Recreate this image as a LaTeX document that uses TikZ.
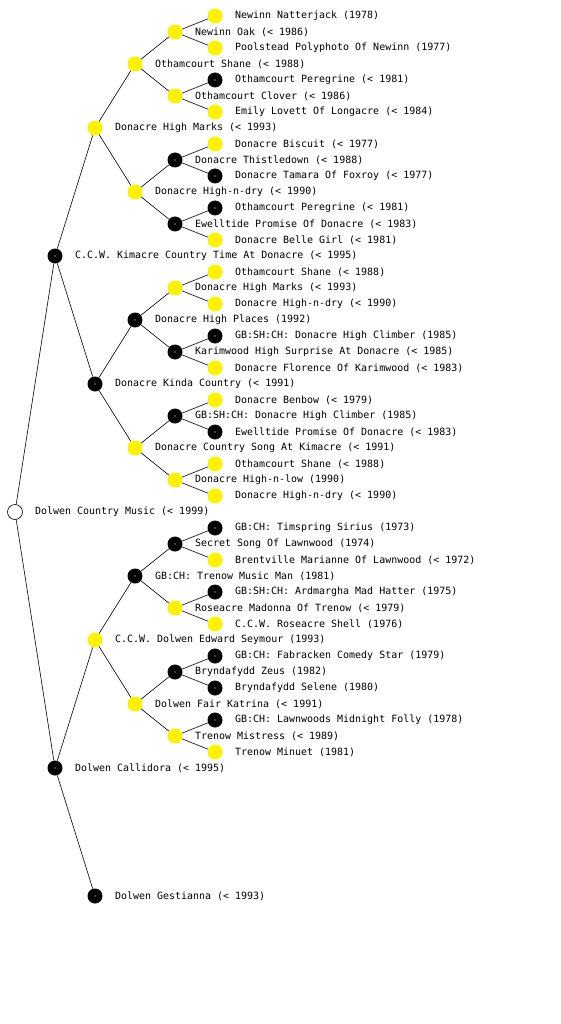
\documentclass[tikz,border=0pt]{standalone}
\usepackage{fontspec}
\setmainfont{DejaVu Sans Mono}
\begin{document}
\begin{tikzpicture}[x=1pt,y=-1pt,
  pn/.style={circle,inner sep=0pt,minimum size=15pt},
  yel/.style={pn,fill=yellow},
  blk/.style={pn,fill=black,path picture={\fill[white] (path picture bounding box.center) circle (0.7pt);}},
  rootn/.style={pn,fill=white,draw=black,line width=0.6pt,path picture={\fill (path picture bounding box.center) circle (0.8pt);}},
  lbl/.style={font=\fontsize{9.97pt}{12pt}\selectfont,inner sep=0pt,anchor=west},
  edge/.style={draw=black,line width=0.6pt}]
\useasboundingbox (0,0) rectangle (560,1024);
\newcommand{\pnode}[5]{\node[#4] (#1) at (#2,#3) {}; \node[lbl] (#1T) at (#2+20,#3) {#5};}
% root
\pnode{r}{15}{512}{rootn}{Dolwen Country Music (< 1999)}
% upper half
\pnode{a1}{55}{256}{blk}{C.C.W. Kimacre Country Time At Donacre (< 1995)}
\pnode{b1}{95}{128}{yel}{Donacre High Marks (< 1993)}
\pnode{c1}{135}{64}{yel}{Othamcourt Shane (< 1988)}
\pnode{d1}{175}{32}{yel}{Newinn Oak (< 1986)}
\pnode{e1}{215}{16}{yel}{Newinn Natterjack (1978)}
\pnode{e2}{215}{48}{yel}{Poolstead Polyphoto Of Newinn (1977)}
\pnode{d2}{175}{96}{yel}{Othamcourt Clover (< 1986)}
\pnode{e3}{215}{80}{blk}{Othamcourt Peregrine (< 1981)}
\pnode{e4}{215}{112}{yel}{Emily Lovett Of Longacre (< 1984)}
\pnode{c2}{135}{192}{yel}{Donacre High-n-dry (< 1990)}
\pnode{d3}{175}{160}{blk}{Donacre Thistledown (< 1988)}
\pnode{e5}{215}{144}{yel}{Donacre Biscuit (< 1977)}
\pnode{e6}{215}{176}{blk}{Donacre Tamara Of Foxroy (< 1977)}
\pnode{d4}{175}{224}{blk}{Ewelltide Promise Of Donacre (< 1983)}
\pnode{e7}{215}{208}{blk}{Othamcourt Peregrine (< 1981)}
\pnode{e8}{215}{240}{yel}{Donacre Belle Girl (< 1981)}
\pnode{b2}{95}{384}{blk}{Donacre Kinda Country (< 1991)}
\pnode{c3}{135}{320}{blk}{Donacre High Places (1992)}
\pnode{d5}{175}{288}{yel}{Donacre High Marks (< 1993)}
\pnode{e9}{215}{272}{yel}{Othamcourt Shane (< 1988)}
\pnode{e10}{215}{304}{yel}{Donacre High-n-dry (< 1990)}
\pnode{d6}{175}{352}{blk}{Karimwood High Surprise At Donacre (< 1985)}
\pnode{e11}{215}{336}{blk}{GB:SH:CH: Donacre High Climber (1985)}
\pnode{e12}{215}{368}{yel}{Donacre Florence Of Karimwood (< 1983)}
\pnode{c4}{135}{448}{yel}{Donacre Country Song At Kimacre (< 1991)}
\pnode{d7}{175}{416}{blk}{GB:SH:CH: Donacre High Climber (1985)}
\pnode{e13}{215}{400}{yel}{Donacre Benbow (< 1979)}
\pnode{e14}{215}{432}{blk}{Ewelltide Promise Of Donacre (< 1983)}
\pnode{d8}{175}{480}{yel}{Donacre High-n-low (1990)}
\pnode{e15}{215}{464}{yel}{Othamcourt Shane (< 1988)}
\pnode{e16}{215}{496}{yel}{Donacre High-n-dry (< 1990)}
% lower half
\pnode{a2}{55}{768}{blk}{Dolwen Callidora (< 1995)}
\pnode{b3}{95}{640}{yel}{C.C.W. Dolwen Edward Seymour (1993)}
\pnode{c5}{135}{576}{blk}{GB:CH: Trenow Music Man (1981)}
\pnode{d9}{175}{544}{blk}{Secret Song Of Lawnwood (1974)}
\pnode{e17}{215}{528}{blk}{GB:CH: Timspring Sirius (1973)}
\pnode{e18}{215}{560}{yel}{Brentville Marianne Of Lawnwood (< 1972)}
\pnode{d10}{175}{608}{yel}{Roseacre Madonna Of Trenow (< 1979)}
\pnode{e19}{215}{592}{blk}{GB:SH:CH: Ardmargha Mad Hatter (1975)}
\pnode{e20}{215}{624}{yel}{C.C.W. Roseacre Shell (1976)}
\pnode{c6}{135}{704}{yel}{Dolwen Fair Katrina (< 1991)}
\pnode{d11}{175}{672}{blk}{Bryndafydd Zeus (1982)}
\pnode{e21}{215}{656}{blk}{GB:CH: Fabracken Comedy Star (1979)}
\pnode{e22}{215}{688}{blk}{Bryndafydd Selene (1980)}
\pnode{d12}{175}{736}{yel}{Trenow Mistress (< 1989)}
\pnode{e23}{215}{720}{blk}{GB:CH: Lawnwoods Midnight Folly (1978)}
\pnode{e24}{215}{752}{yel}{Trenow Minuet (1981)}
\pnode{b4}{95}{896}{blk}{Dolwen Gestianna (< 1993)}
% edges
\foreach \p/\c in {r/a1,r/a2,a1/b1,a1/b2,b1/c1,b1/c2,c1/d1,c1/d2,d1/e1,d1/e2,d2/e3,d2/e4,
  c2/d3,c2/d4,d3/e5,d3/e6,d4/e7,d4/e8,b2/c3,b2/c4,c3/d5,c3/d6,d5/e9,d5/e10,d6/e11,d6/e12,
  c4/d7,c4/d8,d7/e13,d7/e14,d8/e15,d8/e16,a2/b3,a2/b4,b3/c5,b3/c6,c5/d9,c5/d10,d9/e17,d9/e18,
  d10/e19,d10/e20,c6/d11,c6/d12,d11/e21,d11/e22,d12/e23,d12/e24}
  \draw[edge] (\p) -- (\c);
\end{tikzpicture}
\end{document}
